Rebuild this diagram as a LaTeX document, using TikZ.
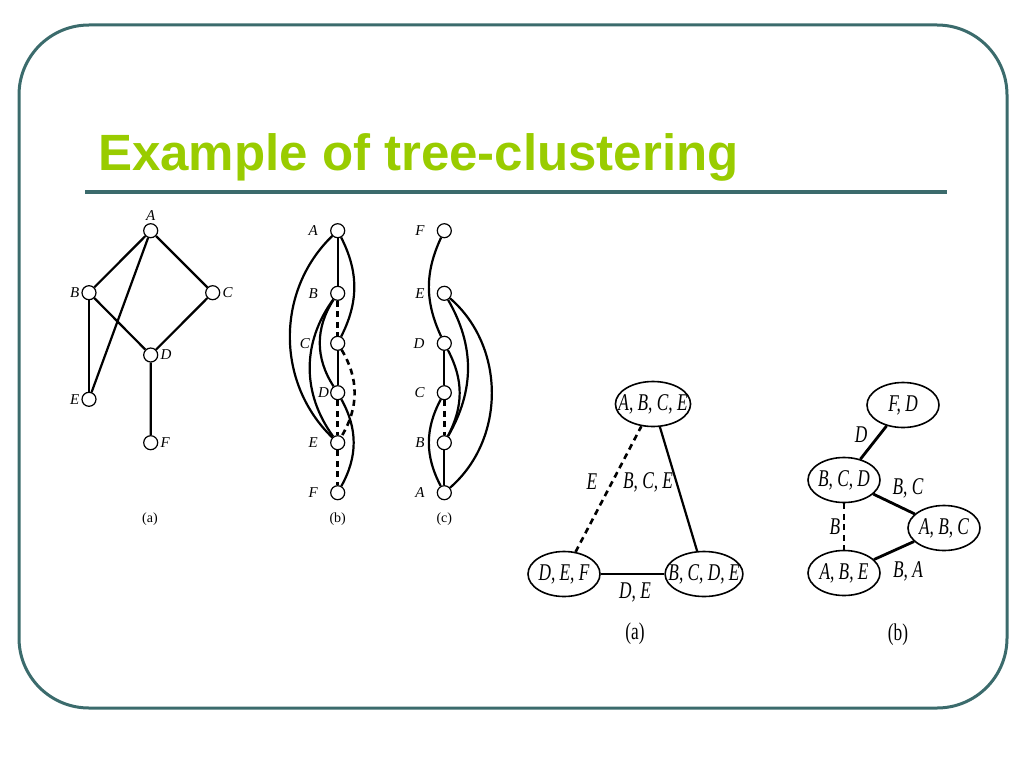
\documentclass[tikz,border=0pt]{standalone}
\usepackage{fontspec}
\usepackage{graphicx}
\setmainfont{Liberation Serif}
\newfontfamily\titlefont{Liberation Sans}
\usetikzlibrary{shapes.geometric}
\definecolor{frameteal}{HTML}{3B6B6C}
\definecolor{titlegreen}{HTML}{99CC00}
\tikzset{
  vtx/.style={circle, draw, fill=white, minimum size=14pt, inner sep=0pt, line width=1.2pt,
    label distance=1pt},
  vlab/.style={inner sep=2pt, font=\fontsize{15}{17}\selectfont\itshape},
  every label/.style={vlab},
  link/.style={line width=2.2pt},
  induced/.style={line width=2.6pt, dash pattern=on 6pt off 4.5pt},
  clust/.style={ellipse, draw, line width=1.6pt, minimum width=72pt, minimum height=45pt,
    inner xsep=-8pt, inner ysep=0pt, font=\fontsize{24}{26}\selectfont\itshape},
  seplab/.style={inner sep=0pt, font=\fontsize{24}{26}\selectfont\itshape},
  captext/.style={inner sep=0pt, font=\fontsize{14}{16}\selectfont},
  bigcap/.style={inner sep=0pt, font=\fontsize{24}{26}\selectfont},
  frameline/.style={line width=3pt, color=frameteal}
}
\newcommand{\sqz}[1]{\scalebox{0.72}[1]{#1}}

\begin{document}
\begin{tikzpicture}[x=1pt, y=-1pt]
\useasboundingbox (0,0) rectangle (1024,768);
\draw[frameline, rounded corners=70pt] (19,25) rectangle (1007,708);
\node[anchor=base west, inner sep=0pt, text=titlegreen,
  font=\titlefont\bfseries\fontsize{51}{60}\selectfont] (title) at (98,170) {Example of tree-clustering};
\draw[frameline, line width=4pt] (85,192) -- (947,192);

% (a) constraint graph
\node[vtx, label={[vlab]above:A}] (aA) at (150.7,230.7) {};
\node[vtx, label={[vlab]left:B}] (aB) at (89,292.7) {};
\node[vtx, label={[vlab]right:C}] (aC) at (212.7,292.7) {};
\node[vtx, label={[vlab]right:D}] (aD) at (150.7,355) {};
\node[vtx, label={[vlab]left:E}] (aE) at (89,399.3) {};
\node[vtx, label={[vlab]right:F}] (aF) at (150.7,442.7) {};
\draw[link] (aA) -- (aB) (aA) -- (aC) (aA) -- (aE) (aB) -- (aD) (aC) -- (aD) (aD) -- (aF);
\draw[link, line width=1.7pt] (aB) -- (aE);
\node[captext] (capa) at (150,519) {(a)};

% (b) ordering A..F
\node[vtx, label={[vlab, label distance=10pt]left:A}] (bA) at (337.7,230.7) {};
\node[vtx, label={[vlab, label distance=10pt]left:B}] (bB) at (337.7,293.3) {};
\node[vtx, label={[vlab, label distance=18pt]left:C}] (bC) at (337.7,343.3) {};
\node[vtx, label={[vlab, label distance=-1pt]left:D}] (bD) at (337.7,392.7) {};
\node[vtx, label={[vlab, label distance=10pt]left:E}] (bE) at (337.7,442.7) {};
\node[vtx, label={[vlab, label distance=10pt]left:F}] (bF) at (337.7,492.7) {};
\draw[link] (bA) -- (bB) (bC) -- (bD);
\draw[induced] (bB) -- (bC) (bD) -- (bE) (bE) -- (bF);
\draw[link] (bA) to[bend right=46] (bE);
\draw[link] (bB) to[bend right=36] (bE);
\draw[link] (bB) to[bend right=33] (bD);
\draw[link] (bA) to[bend left=27] (bC);
\draw[link] (bD) to[bend left=29] (bF);
\draw[induced] (bC) to[bend left=31] (bE);
\node[captext] (capb) at (337.7,519) {(b)};

% (c) ordering F..A
\node[vtx, label={[vlab, label distance=10pt]left:F}] (cF) at (444.3,230.7) {};
\node[vtx, label={[vlab, label distance=10pt]left:E}] (cE) at (444.3,293.3) {};
\node[vtx, label={[vlab, label distance=10pt]left:D}] (cD) at (444.3,343.3) {};
\node[vtx, label={[vlab, label distance=10pt]left:C}] (cC) at (444.3,392.7) {};
\node[vtx, label={[vlab, label distance=10pt]left:B}] (cB) at (444.3,442.7) {};
\node[vtx, label={[vlab, label distance=10pt]left:A}] (cA) at (444.3,492.7) {};
\draw[link] (cD) -- (cC) (cB) -- (cA);
\draw[induced] (cC) -- (cB);
\draw[link] (cF) to[bend right=25] (cD);
\draw[link] (cC) to[bend right=28] (cA);
\draw[link] (cD) to[bend left=28] (cB);
\draw[link] (cE) to[bend left=30] (cB);
\draw[link] (cE) to[bend left=49] (cA);
\node[captext] (capc) at (444.3,519) {(c)};

% tree (a)
\node[clust] (abce) at (653,404) {\sqz{A, B, C, E}};
\node[clust] (def) at (564,574) {\sqz{D, E, F}};
\node[clust] (bcde) at (704,574) {\sqz{B, C, D, E}};
\draw[induced] (def) -- (abce);
\draw[link] (abce) -- (bcde);
\draw[link, line width=2.8pt] (def) -- (bcde);
\node[seplab] (sepE) at (592,482) {\sqz{E}};
\node[seplab] (sepBCE) at (648,482) {\sqz{B, C, E}};
\node[seplab] (sepDE) at (635,592) {\sqz{D, E}};
\node[bigcap] (capta) at (635,634) {\sqz{(a)}};

% tree (b)
\node[clust] (fd) at (903,405) {\sqz{F, D}};
\node[clust] (bcd) at (844,480) {\sqz{B, C, D}};
\node[clust] (abc) at (944,528) {\sqz{A, B, C}};
\node[clust] (abe) at (844,573) {\sqz{A, B, E}};
\draw[link, line width=2.8pt] (fd) -- (bcd);
\draw[link, line width=2.8pt] (bcd) -- (abc);
\draw[link, line width=2.8pt] (abc) -- (abe);
\draw[induced] (bcd) -- (abe);
\node[seplab] (sepD) at (861,435) {\sqz{D}};
\node[seplab] (sepBC) at (908,488) {\sqz{B, C}};
\node[seplab] (sepB) at (835,527) {\sqz{B}};
\node[seplab] (sepBA) at (908,571) {\sqz{B, A}};
\node[bigcap] (captb) at (898,635) {\sqz{(b)}};
\end{tikzpicture}
\end{document}
